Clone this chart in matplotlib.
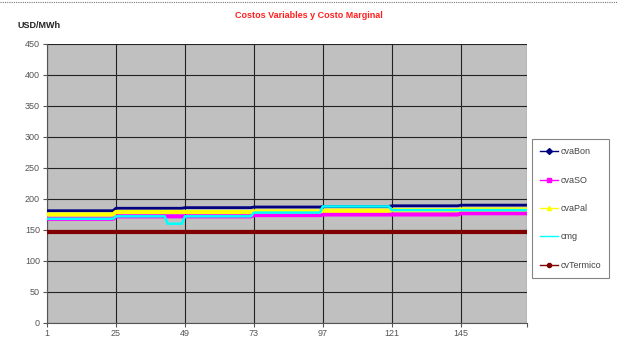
import numpy as np
import matplotlib
matplotlib.use("Agg")
import matplotlib.pyplot as plt
from matplotlib.lines import Line2D

plt.rcParams['font.family'] = ['Liberation Sans', 'DejaVu Sans']

# Hourly horizon: one week, 168 hours
hours = np.arange(1, 169)
day_len = 24

# Daily levels (USD/MWh) for each cost series
cvaBon_daily = [181, 185, 186, 187, 188, 189, 190]
cvaSO_daily = [168, 172, 172, 174, 175, 175, 177]
cvaPal_daily = [175, 179, 179, 180, 181, 182, 183]
cvTermico_daily = [146, 146, 146, 146, 146, 146, 146]

# Marginal cost blocks: level and number of hours in each block
cmg_levels = [168, 172, 160, 172, 178, 188, 182]
cmg_hours = [24, 18, 6, 24, 24, 24, 48]

series_names = ["cvaBon", "cvaSO", "cvaPal", "cmg", "cvTermico"]
series_colors = ["#000080", "#FF00FF", "#FFFF00", "#00FFFF", "#800000"]
series_widths = [2.0, 3.0, 3.0, 1.8, 3.0]
series_markers = ["D", "s", "^", None, "o"]

values = [
    np.repeat(cvaBon_daily, day_len),
    np.repeat(cvaSO_daily, day_len),
    np.repeat(cvaPal_daily, day_len),
    np.repeat(cmg_levels, cmg_hours),
    np.repeat(cvTermico_daily, day_len),
]

x_ticks = [1, 25, 49, 73, 97, 121, 145]
y_ticks = [0, 50, 100, 150, 200, 250, 300, 350, 400, 450]

fig = plt.figure(figsize=(6.17, 3.41), dpi=100)
ax = fig.add_axes([0.076, 0.053, 0.778, 0.818])
ax.set_facecolor("#C0C0C0")

for name, vals, col, lw in zip(series_names, values, series_colors, series_widths):
    ax.plot(hours, vals, color=col, lw=lw, solid_capstyle="butt", zorder=3)

ax.set_xlim(1, 168)
ax.set_ylim(0, 450)
ax.set_xticks(x_ticks + [168])
ax.set_xticklabels([str(t) for t in x_ticks] + [""])
ax.set_yticks(y_ticks)
ax.set_yticklabels([str(t) for t in y_ticks])
ax.grid(True, color="#222222", lw=0.8, zorder=1)
ax.set_axisbelow(True)
for s in ["top", "right"]:
    ax.spines[s].set_visible(False)
for s in ["left", "bottom"]:
    ax.spines[s].set_color("#555555")
    ax.spines[s].set_linewidth(0.8)
ax.tick_params(axis="both", labelsize=6.5, colors="#555555", length=3, width=0.8,
               pad=2)
ax.tick_params(axis="x", pad=1.5)

fig.text(0.5, 0.955, "Costos Variables y Costo Marginal", color="#FF2020",
         fontsize=6.5, fontweight="bold", ha="center", va="center")
fig.text(0.029, 0.925, "USD/MWh", color="#222222", fontsize=6.5,
         fontweight="bold", ha="left", va="center")

# dotted rule along the top edge
fig.add_artist(Line2D([0.0, 1.0], [0.993, 0.993], transform=fig.transFigure,
                      color="#777777", lw=0.8, ls=(0, (1, 1))))

handles = []
for name, col, lw, mk in zip(series_names, series_colors, series_widths, series_markers):
    handles.append(Line2D([0], [0], color=col, lw=1.0, marker=mk,
                          markersize=3, markerfacecolor=col, markeredgecolor=col))
leg = fig.legend(handles, series_names, loc="upper left",
                 bbox_to_anchor=(0.862, 0.592), fontsize=6.5,
                 labelspacing=2.15, handlelength=2.0, handletextpad=0.3,
                 borderpad=0.9, borderaxespad=0.0, fancybox=False, frameon=True)
leg.get_frame().set_edgecolor("#666666")
leg.get_frame().set_linewidth(0.8)
for t in leg.get_texts():
    t.set_color("#444444")

fig.savefig("out.png", dpi=100)
